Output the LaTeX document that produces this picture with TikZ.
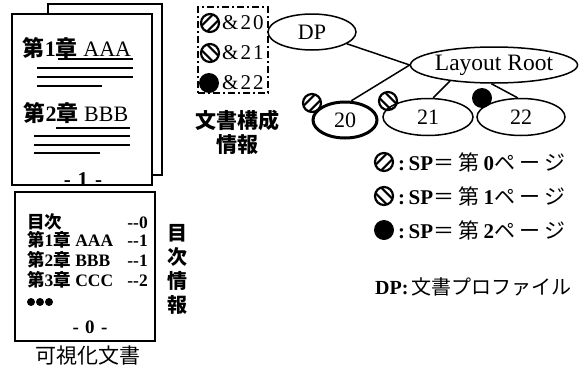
\documentclass[tikz,border=0pt]{standalone}
\usepackage{fontspec}
\setmainfont{Liberation Serif}
\newfontfamily\jp{Noto Sans CJK JP}
\newfontfamily\jpsp[LetterSpace=20]{Noto Sans CJK JP}
\usetikzlibrary{shapes.geometric}
\newcommand{\fs}[1]{\fontsize{#1}{#1}\selectfont}
\begin{document}
\begin{tikzpicture}[x=1pt,y=-1pt,
  page/.style={draw, line width=1.5, fill=white},
  tline/.style={line width=2},
  ell/.style={ellipse, draw, line width=1.5, inner sep=0, font=\fs{22}},
  edge/.style={line width=1.5},
  mk/.style={circle, draw, line width=2.2, minimum size=18, inner sep=0},
  mkA/.style={mk, path picture={
     \draw[line width=2] ([shift={(2.8,2.8)}]path picture bounding box.center) ++(-10,10) -- ++(20,-20);
     \draw[line width=2] ([shift={(-2.8,-2.8)}]path picture bounding box.center) ++(-10,10) -- ++(20,-20);}},
  mkB/.style={mk, path picture={
     \draw[line width=2] ([shift={(2.8,-2.8)}]path picture bounding box.center) ++(-10,-10) -- ++(20,20);
     \draw[line width=2] ([shift={(-2.8,2.8)}]path picture bounding box.center) ++(-10,-10) -- ++(20,20);}},
  mkC/.style={circle, fill, minimum size=20, inner sep=0},
  tocl/.style={anchor=base west, font=\fs{17.5}\bfseries, inner sep=0},
  tocr/.style={anchor=base east, font=\fs{17.5}\bfseries, inner sep=0},
  leg/.style={anchor=west, font=\fs{21}, inner sep=0},
]
\useasboundingbox (0,0) rectangle (581,367);

% back page
\node[page, minimum width=114, minimum height=171, inner sep=0] (back) at (105,89.5) {};
% front page
\node[page, minimum width=140, minimum height=171, inner sep=0] (front) at (82,99.5) {};
\node[font=\fs{22}, inner sep=0] (c1) at (77,48) {{\jp\bfseries 第}\textbf{1}{\jp\bfseries 章} AAA};
\draw[tline] (58,59) -- (133,59);
\draw[tline] (37,68) -- (133,68);
\draw[tline] (37,77) -- (133,77);
\draw[tline] (37,86) -- (102,86);
\node[font=\fs{22}, inner sep=0] (c2) at (76,113) {{\jp\bfseries 第}\textbf{2}{\jp\bfseries 章} BBB};
\draw[tline] (56,128) -- (130,128);
\draw[tline] (34,136) -- (130,136);
\draw[tline] (34,145) -- (130,145);
\draw[tline] (34,153) -- (100,153);
\node[font=\fs{21}\bfseries, inner sep=0] (p1) at (83,180) {-\,\,1\,\,-};

% TOC page
\node[page, minimum width=140, minimum height=149, inner sep=0] (toc) at (85,266.5) {};
\node[tocl] (t0) at (27,228) {{\jp 目次}};
\node[tocl] (t1) at (27,246) {{\jp 第}1{\jp 章} AAA};
\node[tocl] (t2) at (27,266) {{\jp 第}2{\jp 章} BBB};
\node[tocl] (t3) at (27,286) {{\jp 第}3{\jp 章} CCC};
\node[tocr] (r0) at (148,228) {-{}-0};
\node[tocr] (r1) at (148,246) {-{}-1};
\node[tocr] (r2) at (148,266) {-{}-1};
\node[tocr] (r3) at (148,286) {-{}-2};
\fill (31,302) circle (4) (40,302) circle (4) (49,302) circle (4);
\node[font=\fs{19}\bfseries, inner sep=0] (p0) at (90,327) {-\,\,0\,\,-};
\node[font=\fs{20}\jp\bfseries, align=center, inner sep=0] (mokuji) at (177,269) {目\\[4pt]次\\[4pt]情\\[4pt]報};
\node[font=\fs{21}\jp, inner sep=0] (kashika) at (88,356) {可視化文書};

% dashed box
\node[draw, line width=1.8, dash pattern=on 7pt off 3pt on 2pt off 3pt,
      minimum width=70, minimum height=86, inner sep=0] (dbox) at (233,50) {};
\node[mkA] (d0) at (210,23) {};
\node[mkB] (d1) at (210,53) {};
\node[mkC] (d2) at (209,83) {};
\node[font=\fs{21}, anchor=west, inner sep=0] (a0) at (222,23) {\&\kern2pt 2\kern2pt 0};
\node[font=\fs{21}, anchor=west, inner sep=0] (a1) at (222,53) {\&\kern2pt 2\kern2pt 1};
\node[font=\fs{21}, anchor=west, inner sep=0] (a2) at (222,83) {\&\kern2pt 2\kern2pt 2};
\node[font=\fs{21}\jp\bfseries, align=center, inner sep=0] (kosei) at (237,132) {文書構成\\[3pt]情報};

% tree
\node[ell, minimum width=88, minimum height=36] (DP) at (312,32) {DP};
\node[ell, font=\fs{23.5}, minimum width=164, minimum height=36] (LR) at (494,65) {Layout Root};
\node[ell, line width=3, minimum width=64, minimum height=36] (n20) at (345,120) {20};
\node[ell, minimum width=90, minimum height=37] (n21) at (428,117) {21};
\node[ell, minimum width=88, minimum height=37] (n22) at (521,117) {22};
\draw[edge] (DP) -- (LR.west);
\draw[edge] (LR.west) -- (n20.72);
\draw[edge] (LR.200) -- (n21.75);
\draw[edge] (LR.262) -- (n22.100);
\node[mkA] (m20) at (312,103) {};
\node[mkB] (m21) at (388,101) {};
\node[mkC] (m22) at (482,98) {};

% legend
\node[mkA] (l0) at (384,162) {};
\node[mkB] (l1) at (384,196) {};
\node[mkC] (l2) at (384,230) {};
\node[leg] (lt0) at (398,162) {\textbf{:\,SP}{\jpsp ＝第}\textbf{0}{\jpsp ページ}};
\node[leg] (lt1) at (398,196) {\textbf{:\,SP}{\jpsp ＝第}\textbf{1}{\jpsp ページ}};
\node[leg] (lt2) at (398,230) {\textbf{:\,SP}{\jpsp ＝第}\textbf{2}{\jpsp ページ}};
\node[leg, font=\fs{20}] (ldp) at (375,287) {\textbf{DP:}\,{\jp 文書プロファイル}};
\end{tikzpicture}
\end{document}
